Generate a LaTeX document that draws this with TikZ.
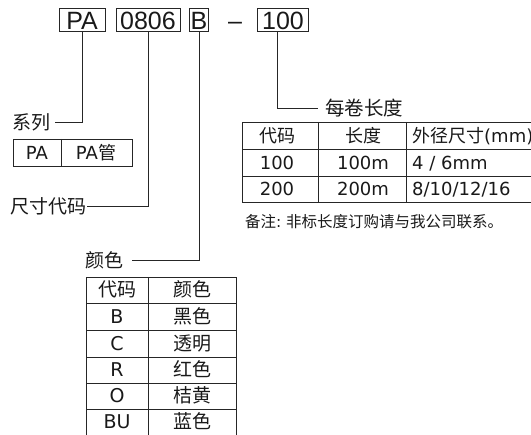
\documentclass[tikz,border=0pt]{standalone}
\usepackage{fontspec}
\setmainfont{Liberation Sans}
\newfontfamily\cjk{Noto Sans CJK SC}
\newfontfamily\lat{DejaVu Sans}
\newfontfamily\arl{Liberation Sans}
\begin{document}
\begin{tikzpicture}[x=1pt,y=-1pt,
  ln/.style={line width=0.9pt, draw=black!85},
  topbox/.style={draw=black!85, line width=1pt, inner sep=0pt, minimum height=23pt,
     text height=18pt, text depth=0pt, font=\arl\fontsize{25}{25}\selectfont, text=black!90},
  lbl/.style={inner sep=0pt, font=\cjk\fontsize{19}{19}\selectfont, text=black!90},
  lt/.style={inner sep=0pt, anchor=base, font=\fontsize{18}{18}\selectfont, text=black!90},
  ct/.style={inner sep=0pt, anchor=base, font=\fontsize{19}{19}\selectfont, text=black!90},
]
\useasboundingbox (0,0) rectangle (531,435);

% top code boxes
\node[topbox, minimum width=46pt] (pa) at (82,20.5) {PA};
\node[topbox, minimum width=64pt] (size) at (148,20.5) {0806};
\node[topbox, minimum width=19pt] (col) at (199,20.5) {B};
\node[topbox, draw=none] (dash) at (235,20.5) {–};
\node[topbox, minimum width=51pt] (len) at (283,20.5) {100};

% labels
\node[lbl, anchor=base west] (xilie) at (12,130) {系列};
\node[lbl, anchor=base west] (chicun) at (10,214) {尺寸代码};
\node[lbl, anchor=base west] (yanse) at (85,268) {颜色};
\node[lbl, anchor=base west, font=\cjk\fontsize{19.5}{19.5}\selectfont] (meijuan) at (325,116) {每卷长度};

% connectors
\draw[ln] (pa.south) |- ([xshift=5pt]xilie.east);
\draw[ln] (size.south) |- ([xshift=1pt]chicun.east);
\draw[ln] (col.south) |- ([xshift=9pt]yanse.east);
\draw[ln] ([xshift=-6pt]len.south) |- ([xshift=-7pt]meijuan.west);

% PA table
\draw[ln] (13,139) rectangle (132,166);
\draw[ln] (61,139) -- (61,166);
\node[ct, font=\fontsize{18}{18}\selectfont] (pa1) at (37,159.2) {\lat PA};
\node[ct, font=\fontsize{18}{18}\selectfont] (pa2) at (96,159.2) {\lat PA\cjk 管};

% length table
\draw[ln] (560,122) -- (242,122) -- (242,202) -- (560,202);
\draw[ln] (242,149) -- (560,149);
\draw[ln] (242,176) -- (560,176);
\draw[ln] (318,122) -- (318,202);
\draw[ln] (406,122) -- (406,202);
\node[lt] (l11) at (277,142.2) {\cjk 代码};
\node[lt] (l12) at (363,142.2) {\cjk 长度};
\node[lt, anchor=base west] (l13) at (412,142.2) {\cjk 外径尺寸\lat (mm)};
\node[lt] (l21) at (277,169.2) {\lat 100};
\node[lt] (l22) at (363,169.2) {\lat 100m};
\node[lt, anchor=base west] (l23) at (412,169.2) {\lat 4 / 6mm};
\node[lt] (l31) at (277,195.7) {\lat 200};
\node[lt] (l32) at (363,195.7) {\lat 200m};
\node[lt, anchor=base west] (l33) at (412,195.7) {\lat 8/10/12/16};
\node[inner sep=0pt, anchor=base west, font=\cjk\fontsize{15.5}{15.5}\selectfont, text=black!90] (note) at (245,227.7) {备注\lat:\cjk{} 非标长度订购请与我公司联系。};

% colour table
\draw[ln] (86,440) -- (86,277) -- (236,277) -- (236,440);
\draw[ln] (148,277) -- (148,440);
\foreach \yy in {303,330,357,383,409} \draw[ln] (86,\yy) -- (236,\yy);
\node[ct] (c11) at (117,297) {\cjk 代码};
\node[ct] (c12) at (192,297) {\cjk 颜色};
\node[ct] (c21) at (117,323.5) {\lat B};
\node[ct] (c22) at (192,323.5) {\cjk 黑色};
\node[ct] (c31) at (117,350.5) {\lat C};
\node[ct] (c32) at (192,350.5) {\cjk 透明};
\node[ct] (c41) at (117,377) {\lat R};
\node[ct] (c42) at (192,377) {\cjk 红色};
\node[ct] (c51) at (117,403) {\lat O};
\node[ct] (c52) at (192,403) {\cjk 桔黄};
\node[ct] (c61) at (117,429) {\lat BU};
\node[ct] (c62) at (192,429) {\cjk 蓝色};
\end{tikzpicture}
\end{document}
